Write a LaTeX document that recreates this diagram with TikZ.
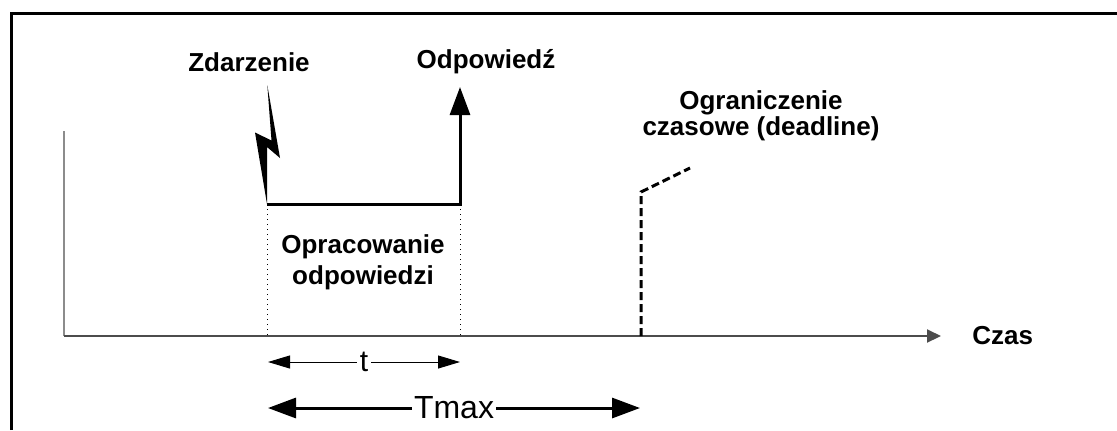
\documentclass[tikz,border=0pt]{standalone}
\usepackage{fontspec}
\setmainfont{Liberation Sans}
\usetikzlibrary{arrows.meta}
\definecolor{osjasna}{rgb}{0.55,0.55,0.55}
\definecolor{osciemna}{rgb}{0.3,0.3,0.3}
\tikzset{
  opis/.style={font=\bfseries\fontsize{13}{15.5}\selectfont, align=center, inner sep=0pt},
  gruba/.style={line width=1.5pt},
  cienka/.style={line width=0.5pt},
  grot/.style={-{Triangle[length=14pt,width=10pt]}},
  grotmaly/.style={{Triangle[length=11pt,width=6.5pt]}-{Triangle[length=11pt,width=6.5pt]}},
  grotduzy/.style={{Triangle[length=14pt,width=10pt]}-{Triangle[length=14pt,width=10pt]}}
}
\begin{document}
\begin{tikzpicture}[x=0.5pt,y=-0.5pt]
\useasboundingbox (0,0) rectangle (1117,430);
% ramka
\draw [line width=1.5pt] (11,430) -- (11,13) -- (1117,13);
% osie
\coordinate (o) at (64,336);
\coordinate (osgora) at (64,131);
\coordinate (oskoniec) at (941,336);
\draw [osjasna, line width=1pt] (osgora) -- (o);
\draw [osciemna, line width=1pt, -{Triangle[length=7pt,width=6.5pt]}] (o) -- (oskoniec);
\node [opis, anchor=west] (czas) at (972,336) {Czas};
% zdarzenie i odpowiedz
\coordinate (start) at (267,204);
\coordinate (stop) at (460,204);
\coordinate (odpgrot) at (460,87);
\fill (267.3,85) -- (280,158) -- (267,147) -- (start) -- (255,132.5) -- (271.5,140.5) -- cycle;
\draw [gruba, grot] (start) -- (stop) -- (odpgrot);
\node [opis] (zdarzenie) at (249,62) {Zdarzenie};
\node [opis] (odpowiedz) at (486,62) {Odpowiedź};
\coordinate (startos) at (267,336);
\coordinate (stopos) at (460,336);
\draw [cienka, dotted] (start) -- (startos);
\draw [cienka, dotted] (stop) -- (stopos);
\node [opis] (opracowanie) at (363,262) {Opracowanie\\odpowiedzi};
% deadline
\coordinate (dlos) at (641,336);
\coordinate (dlzalom) at (641,192);
\coordinate (dlkoniec) at (690,168);
\draw [gruba, dash pattern=on 4pt off 2pt] (dlos) -- (dlzalom) -- (dlkoniec);
\node [opis, font=\bfseries\fontsize{13}{11.5}\selectfont] (ograniczenie) at (761,116) {Ograniczenie\\czasowe (deadline)};
% odcinki czasu
\coordinate (t1) at (268,362);
\coordinate (t2) at (460,362);
\draw [cienka, grotmaly] (t1) -- node [fill=white, inner sep=1.5pt, font=\fontsize{15}{18}\selectfont] (tczas) {t} (t2);
\coordinate (tm1) at (268,408);
\coordinate (tm2) at (640,408);
\draw [gruba, grotduzy] (tm1) -- node [fill=white, inner sep=1pt, font=\fontsize{16}{19}\selectfont] (tmax) {Tmax} (tm2);
\end{tikzpicture}
\end{document}
